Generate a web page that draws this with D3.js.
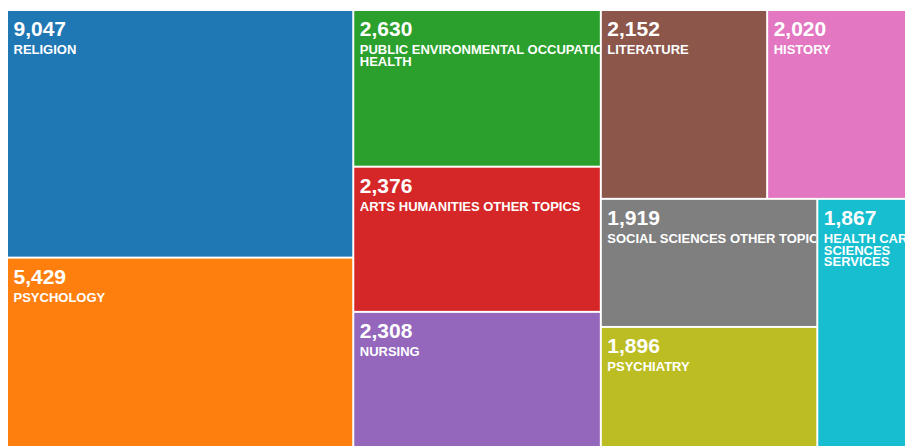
<!DOCTYPE html>
<html>
<head>
<meta charset="utf-8">
<script src="https://cdn.jsdelivr.net/npm/d3@7"></script>
<style>
  html, body { margin: 0; padding: 0; overflow: hidden; background: #fff; }
  svg { display: block; }
  text { font-family: "Liberation Sans", Arial, Helvetica, sans-serif; font-weight: bold; fill: #fff; }
</style>
</head>
<body>
<div id="chart"></div>
<script>
const WIDTH = 905;
const HEIGHT = 446;

const categories = [
  'RELIGION', 'PSYCHOLOGY', 'PUBLIC ENVIRONMENTAL OCCUPATIONAL HEALTH',
  'ARTS HUMANITIES OTHER TOPICS', 'NURSING', 'LITERATURE', 'HISTORY',
  'SOCIAL SCIENCES OTHER TOPICS', 'PSYCHIATRY', 'HEALTH CARE SCIENCES SERVICES'
];
const counts = [9047, 5429, 2630, 2376, 2308, 2152, 2020, 1919, 1896, 1867];
// tile sizes as they appear in the picture (not strictly proportional to counts)
const tileWeights = [5833, 4579, 2639, 2445, 2360, 2137, 2028, 1886, 1842, 1855];
const colors = d3.schemeCategory10;

const svg = d3.select('#chart').append('svg')
  .attr('width', WIDTH)
  .attr('height', HEIGHT);

const g = svg.append('g')
  .attr('transform', 'translate(8, 11)');

const data = {
  name: 'root',
  children: categories.map((name, i) => ({
    name: name,
    count: counts[i],
    weight: tileWeights[i],
    color: colors[i]
  }))
};

const root = d3.hierarchy(data).sum(d => d.weight || 0);

d3.treemap()
  .tile(d3.treemapSquarify)
  .size([916, 440])
  .paddingInner(2)(root);

const fmt = d3.format(',');

const cell = g.selectAll('g.cell')
  .data(root.leaves())
  .join('g')
  .attr('class', 'cell')
  .attr('transform', d => `translate(${d.x0}, ${d.y0})`);

cell.append('clipPath')
  .attr('id', (d, i) => 'clip' + i)
  .append('rect')
  .attr('width', d => d.x1 - d.x0)
  .attr('height', d => d.y1 - d.y0);

cell.append('rect')
  .attr('width', d => d.x1 - d.x0)
  .attr('height', d => d.y1 - d.y0)
  .attr('fill', d => d.data.color);

const label = cell.append('g')
  .attr('clip-path', (d, i) => `url(#clip${i})`);

label.append('text')
  .attr('x', 5.5)
  .attr('y', 25)
  .style('font-size', '21px')
  .text(d => fmt(d.data.count));

// rough word wrap, about 7px per character
function wrapWords(name, width) {
  const maxChars = Math.floor((width - 12) / 7);
  const words = name.split(' ');
  const lines = [];
  let line = '';
  for (const w of words) {
    const next = line ? line + ' ' + w : w;
    if (line && next.length > maxChars) {
      lines.push(line);
      line = w;
    } else {
      line = next;
    }
  }
  if (line) lines.push(line);
  return lines;
}

label.append('text')
  .attr('x', 5.5)
  .attr('y', 43)
  .style('font-size', '13px')
  .selectAll('tspan')
  .data(d => wrapWords(d.data.name, d.x1 - d.x0))
  .join('tspan')
  .attr('x', 5.5)
  .attr('dy', (d, i) => i === 0 ? 0 : 11.7)
  .text(d => d);
</script>
</body>
</html>
